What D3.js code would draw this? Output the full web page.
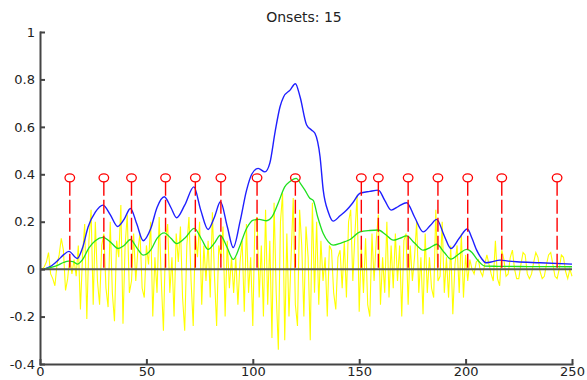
<!DOCTYPE html>
<html>
<head>
<meta charset="utf-8">
<script src="https://cdn.jsdelivr.net/npm/d3@7"></script>
<style>
  body { margin: 0; background: #fff; }
  text { font-family: "DejaVu Sans", Arial, sans-serif; }
  .axis path, .axis line { stroke: #444; stroke-width: 2; }
  .axis text { font-size: 13px; fill: #222; }
</style>
</head>
<body>
<div id="chart"></div>
<script>
// onset positions (frames) from the stem plot
const onsets = [14, 30, 43, 59, 73, 85, 102, 120, 151, 159, 173, 187, 201, 217, 243];
const onsetHeight = 0.385;

// detection function (blue) as [frame, value]
const detFn = [[2,0],[5,0.012],[8.5,0.038],[11,0.06],[13.6,0.075],[17.5,0.045],[20,0.09],[22.6,0.178],[26,0.24],[29.6,0.27],
  [33,0.23],[36.5,0.18],[39.5,0.21],[42.5,0.256],[45.5,0.19],[48.5,0.12],[52,0.17],[55,0.26],[58.4,0.305],[61.5,0.26],
  [64.2,0.217],[68,0.27],[72.3,0.347],[75.5,0.25],[79,0.167],[82,0.22],[84.8,0.284],[88,0.18],[90.8,0.091],[94,0.2],
  [97,0.33],[99.5,0.40],[102.5,0.425],[105.7,0.41],[108,0.447],[110.5,0.58],[112.8,0.685],[114.5,0.727],[117.5,0.755],[120,0.782],
  [122.2,0.727],[125.3,0.608],[127.7,0.586],[129.2,0.573],[131.6,0.474],[133.1,0.333],[135.5,0.24],[137.8,0.2025],[141,0.225],[144.1,0.249],
  [147,0.28],[150.4,0.32],[155,0.328],[159,0.333],[162,0.29],[165,0.249],[168.5,0.265],[172.3,0.28],[176,0.22],[180.1,0.157],
  [183.5,0.185],[186.4,0.21],[190,0.14],[193.1,0.087],[197,0.13],[200.8,0.169],[203,0.13],[205.2,0.08],[207.5,0.045],[209.5,0.027],
  [212,0.03],[216.2,0.038],[220,0.034],[224,0.031],[235,0.027],[250,0.021]];

// smoothed / threshold function (green)
const smoothFn = [[2,0],[5,0.007],[8.5,0.017],[11,0.028],[13.5,0.034],[15.5,0.032],[17.5,0.021],[20,0.04],[23,0.09],[26,0.12],
  [29.6,0.134],[33,0.115],[36.7,0.087],[39.5,0.1],[42.5,0.125],[45.5,0.09],[48.5,0.059],[52,0.08],[55,0.13],[58.4,0.153],
  [61.5,0.13],[64.2,0.108],[68,0.13],[72.5,0.172],[76,0.125],[79,0.083],[82,0.11],[84.7,0.143],[88,0.09],[90.8,0.041],
  [94,0.1],[97,0.17],[100.2,0.207],[103,0.21],[106.5,0.204],[109,0.22],[112,0.28],[115,0.347],[117.5,0.37],[120.4,0.383],
  [122.5,0.36],[124.5,0.333],[126.7,0.3],[128.4,0.29],[130.5,0.22],[133.1,0.15],[135.5,0.115],[137.8,0.101],[141.5,0.11],[145.7,0.125],
  [150.4,0.157],[155,0.163],[159,0.165],[162.5,0.145],[166,0.122],[169,0.13],[172.3,0.14],[176,0.11],[180.1,0.08],[183.5,0.092],
  [186.4,0.105],[190,0.07],[193.1,0.042],[197,0.065],[200.5,0.083],[203,0.07],[205.5,0.04],[209.1,0.013],[215,0.012],[230,0.011],[250,0.01]];

// raw signal (yellow), one value per frame starting at frame 1
const signal = [
  0, 0.01, 0.03, 0.07, -0.02, -0.04, -0.07, 0.02, 0.06, 0.13,
  0.08, -0.09, -0.04, 0.05, -0.02, 0.04, -0.03, 0.1, -0.17, 0.06,
  0.19, -0.21, 0.12, 0.25, -0.15, 0.2, -0.05, -0.15, 0.1, 0.15,
  -0.08, -0.16, 0.2, -0.1, -0.22, 0.12, 0.05, 0.27, -0.23, 0.1,
  0.23, -0.1, -0.05, 0.15, -0.05, 0.08, 0.15, -0.08, -0.12, 0.1,
  0.02, 0.2, -0.2, 0.05, -0.1, 0.22, -0.05, -0.26, 0.12, 0.19,
  -0.1, 0.05, -0.2, 0.15, 0.03, 0.18, -0.12, -0.26, 0.1, 0.22,
  -0.05, -0.24, 0.15, 0.05, 0.2, -0.15, 0.1, -0.05, 0.12, -0.12,
  0.24, -0.03, -0.24, 0.1, 0.05, 0.18, -0.2, 0.12, -0.08, 0.05,
  -0.1, 0.05, -0.15, 0.03, 0.12, -0.18, 0.19, -0.1, 0.05, -0.24,
  0.2, 0.22, -0.12, 0.1, -0.2, 0.25, -0.15, 0.12, -0.29, 0.28,
  -0.1, -0.34, 0.2, 0.32, -0.3, 0.15, -0.2, 0.05, 0.3, -0.15,
  -0.24, 0.25, 0.1, -0.2, 0.18, 0.05, -0.3, 0.28, -0.1, 0.2,
  -0.15, 0.12, -0.05, 0.05, -0.2, 0.1, 0.08, -0.1, -0.17, 0.05,
  0.08, -0.08, 0.12, -0.12, 0.2, 0.25, -0.05, 0.15, 0.31, -0.18,
  0.1, -0.1, 0.13, -0.15, -0.2, 0.15, -0.05, 0.12, 0.23, -0.15,
  0.05, -0.1, 0.2, -0.12, 0.1, -0.08, 0.15, -0.05, 0.1, -0.2,
  0.12, 0.15, -0.15, 0.1, -0.05, 0.05, 0.2, -0.1, 0.05, -0.19,
  0.15, -0.1, 0.05, -0.08, -0.12, 0.25, -0.05, -0.03, 0.2, -0.1,
  0.05, -0.12, 0.1, -0.19, 0.02, 0.1, -0.1, 0.15, -0.12, 0.06,
  -0.05, 0.04, 0.0, -0.02, 0.03, 0.04, -0.01, -0.03, 0.02, 0.06,
  0.02, -0.02, -0.05, 0.12, -0.04, -0.07, 0.08, 0.04, -0.03, -0.02,
  0.05, 0.08, 0.0, -0.04, -0.04, 0.02, 0.07, 0.06, -0.02, -0.04,
  -0.02, 0.03, 0.07, 0.05, -0.01, -0.04, -0.03, 0.02, 0.06, 0.07,
  0.02, -0.03, -0.04, 0.0, 0.06, 0.05, -0.01, -0.04, 0.0, -0.03
];

const xTicks = [0, 50, 100, 150, 200, 250];
const yTicks = [-0.4, -0.2, 0, 0.2, 0.4, 0.6, 0.8, 1];
const yTickLabels = ["-0.4", "-0.2", "0", "0.2", "0.4", "0.6", "0.8", "1"];
const title = "Onsets: 15";

const W = 587, H = 380;
const margin = {top: 32, right: 15, bottom: 16, left: 40};

const svg = d3.select("#chart").append("svg")
  .attr("width", W)
  .attr("height", H);

const x = d3.scaleLinear().domain([0, 250]).range([margin.left, W - margin.right]);
const y = d3.scaleLinear().domain([-0.4, 1]).range([H - margin.bottom, margin.top]);

// yellow raw signal
const sigLine = d3.line()
  .x((d, i) => x(i + 1))
  .y(d => y(d));

svg.append("path")
  .datum(signal)
  .attr("fill", "none")
  .attr("stroke", "#ffff00")
  .attr("stroke-width", 1.1)
  .attr("d", sigLine);

const smooth = d3.line()
  .x(d => x(d[0]))
  .y(d => y(d[1]))
  .curve(d3.curveMonotoneX);

svg.append("path")
  .datum(detFn)
  .attr("fill", "none")
  .attr("stroke", "#1f1fff")
  .attr("stroke-width", 1.4)
  .attr("d", smooth);

svg.append("path")
  .datum(smoothFn)
  .attr("fill", "none")
  .attr("stroke", "#1fe01f")
  .attr("stroke-width", 1.3)
  .attr("d", smooth);

// stem baseline
svg.append("line")
  .attr("x1", x(0)).attr("x2", x(250))
  .attr("y1", y(0)).attr("y2", y(0))
  .attr("stroke", "#555")
  .attr("stroke-width", 2);

const ry = 4, rx = 4.8;
const stems = svg.append("g").selectAll("g")
  .data(onsets)
  .join("g");

stems.append("line")
  .attr("x1", d => x(d)).attr("x2", d => x(d))
  .attr("y1", y(onsetHeight) + ry).attr("y2", y(0))
  .attr("stroke", "#ff0000")
  .attr("stroke-width", 1.4)
  .attr("stroke-dasharray", "14,4");

stems.append("ellipse")
  .attr("cx", d => x(d))
  .attr("cy", y(onsetHeight))
  .attr("rx", rx).attr("ry", ry)
  .attr("fill", "none")
  .attr("stroke", "#ff0000")
  .attr("stroke-width", 1.3);

// axes
const yAxis = d3.axisLeft(y)
  .tickValues(yTicks)
  .tickFormat((d, i) => yTickLabels[i])
  .tickSize(-5)
  .tickSizeOuter(0)
  .tickPadding(5);

const xAxis = d3.axisBottom(x)
  .tickValues(xTicks)
  .tickFormat(d3.format("d"))
  .tickSize(-5)
  .tickSizeOuter(0)
  .tickPadding(3);

svg.append("g")
  .attr("class", "y axis")
  .attr("transform", "translate(" + margin.left + ",0)")
  .call(yAxis);

svg.append("g")
  .attr("class", "x axis")
  .attr("transform", "translate(0," + (H - margin.bottom) + ")")
  .call(xAxis);

svg.selectAll(".axis .domain").attr("stroke-linecap", "square");

svg.append("text")
  .attr("x", 304)
  .attr("y", 22)
  .attr("text-anchor", "middle")
  .attr("font-size", "14px")
  .attr("fill", "#222")
  .text(title);
</script>
</body>
</html>
